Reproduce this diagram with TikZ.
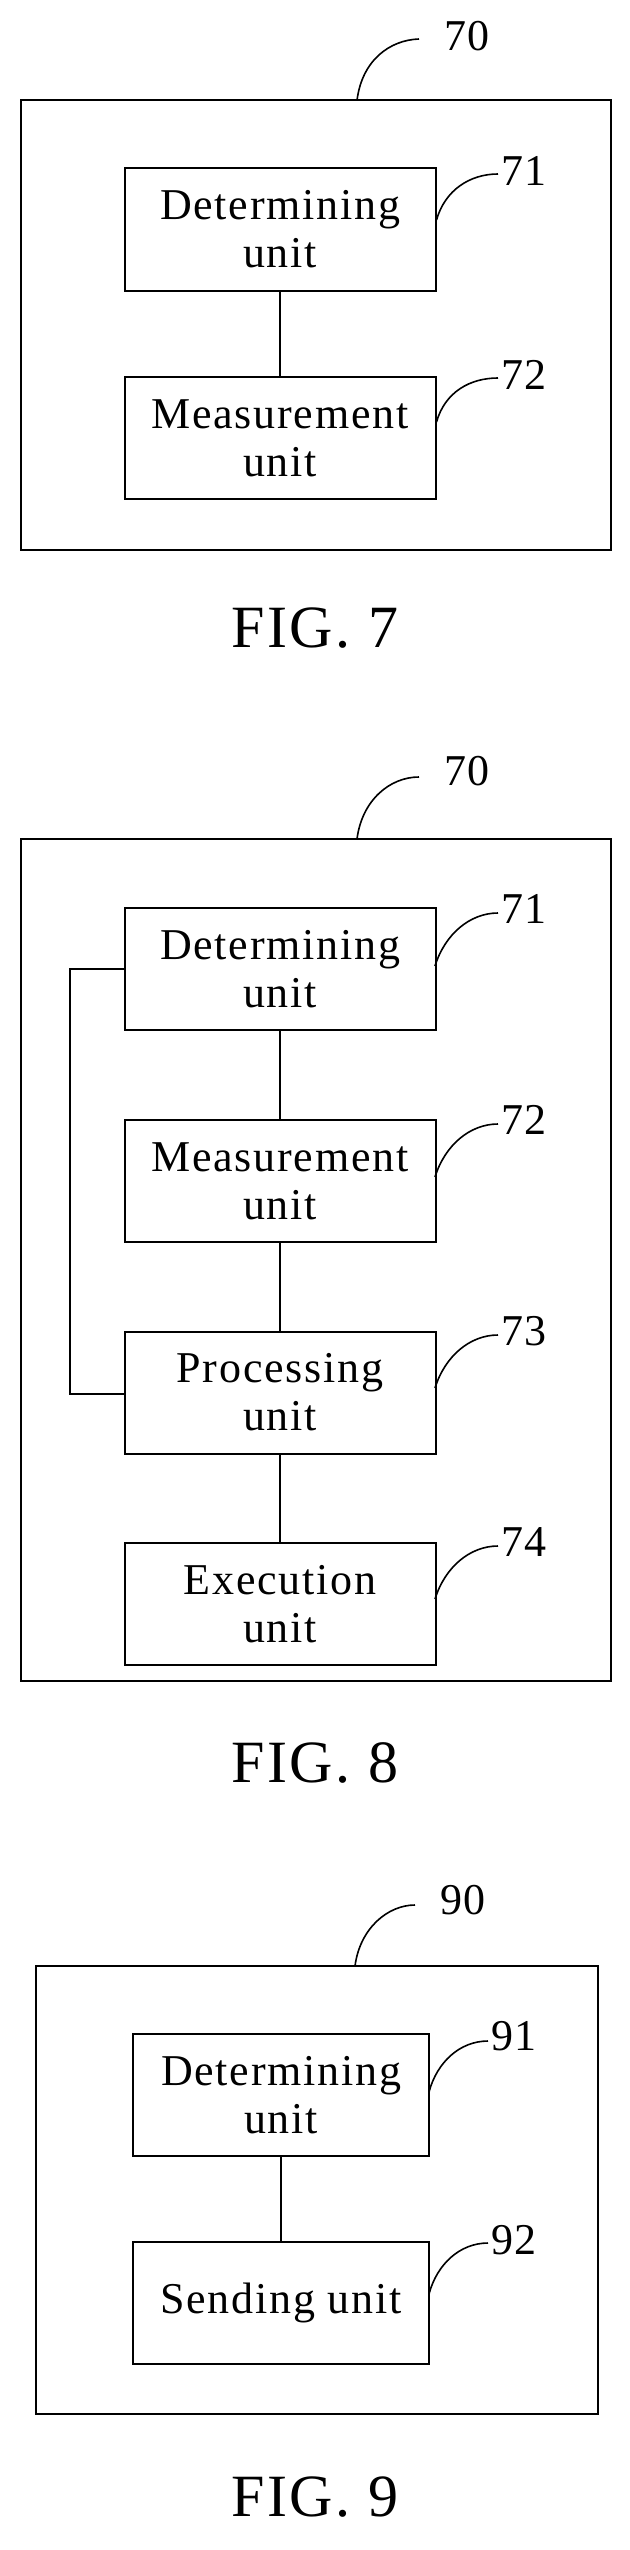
\documentclass[tikz,border=0pt]{standalone}
\usepackage{fontspec}
\setmainfont{Liberation Serif}[LetterSpace=4]
\begin{document}
\begin{tikzpicture}[x=1pt,y=-1pt,
  unit/.style={draw,line width=2pt,minimum width=311pt,minimum height=122pt,align=center,font=\fontsize{44}{48}\selectfont,inner sep=0pt},
  frame/.style={draw,line width=2pt},
  lead/.style={line width=1.6pt},
  num/.style={anchor=west,inner sep=1pt,font=\fontsize{44}{48}\selectfont},
  figcap/.style={font=\fontsize{60}{64}\selectfont}]
\useasboundingbox (0,0) rectangle (629,2550);
% FIG 7
\node[frame,minimum width=590pt,minimum height=450pt,inner sep=0pt] (f7) at (316,325) {};
\node[unit] (a71) at (280,229.5) {Determining\\unit};
\node[unit] (a72) at (280,438) {Measurement\\unit};
\draw[line width=1.6pt] (a71) -- (a72);
\coordinate (t70) at (419,39); \node[num] (n70) at (443,36) {70};
\draw[lead] (357,100.5) .. controls (362,60) and (390,40) .. (t70);
\coordinate (t71) at (498,174); \node[num] (n71) at (500,171) {71};
\draw[lead] (a71.east |- 0,220) .. controls (445,190) and (470,174) .. (t71);
\coordinate (t72) at (498,378); \node[num] (n72) at (500,375) {72};
\draw[lead] (a72.east |- 0,422) .. controls (445,392) and (470,378) .. (t72);
\node[figcap] (c7) at (315,628) {FIG. 7};
% FIG 8
\node[frame,minimum width=590pt,minimum height=842pt,inner sep=0pt] (f8) at (316,1260) {};
\node[unit] (b71) at (280,969) {Determining\\unit};
\node[unit] (b72) at (280,1181) {Measurement\\unit};
\node[unit] (b73) at (280,1392.5) {Processing\\unit};
\node[unit] (b74) at (280,1604) {Execution\\unit};
\draw[line width=1.6pt] (b71) -- (b72);
\draw[line width=1.6pt] (b72) -- (b73);
\draw[line width=1.6pt] (b73) -- (b74);
\draw[line width=1.6pt] (b71.west |- 0,969) -- (70,969) -- (70,1394) -- (b73.west |- 0,1394);
\coordinate (s70) at (419,777); \node[num] (m70) at (443,771) {70};
\draw[lead] (357,839) .. controls (362,800) and (390,777) .. (s70);
\foreach \n/\yy in {71/909,72/1120,73/1331,74/1542}{
  \coordinate (s\n) at (498,\yy+4);
  \node[num] (m\n) at (500,\yy) {\n};
  \draw[lead] (435,\yy+57) .. controls (445,\yy+25) and (470,\yy+4) .. (s\n);
}
\node[figcap] (c8) at (315,1763) {FIG. 8};
% FIG 9
\node[frame,minimum width=562pt,minimum height=448pt,inner sep=0pt] (f9) at (316.5,2190) {};
\node[unit,minimum width=296pt] (c91) at (281,2095) {Determining\\unit};
\node[unit,minimum width=296pt] (c92) at (281,2302.5) {Sending unit};
\draw[line width=1.6pt] (c91) -- (c92);
\coordinate (u90) at (415,1905); \node[num] (p90) at (439,1900) {90};
\draw[lead] (355,1966) .. controls (360,1928) and (388,1905) .. (u90);
\coordinate (u91) at (488,2041); \node[num] (p91) at (490,2036) {91};
\draw[lead] (429,2092) .. controls (437,2062) and (460,2041) .. (u91);
\coordinate (u92) at (488,2243); \node[num] (p92) at (490,2240) {92};
\draw[lead] (429,2294) .. controls (437,2264) and (460,2243) .. (u92);
\node[figcap] (c9) at (315,2497) {FIG. 9};
\end{tikzpicture}
\end{document}
